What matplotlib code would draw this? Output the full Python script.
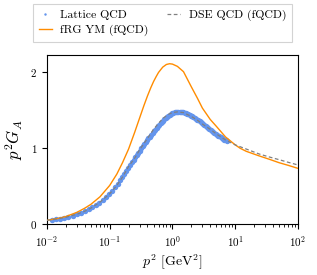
import matplotlib
matplotlib.use("Agg")
import matplotlib.pyplot as plt

plt.rcParams['font.family'] = ['cmr10', 'DejaVu Serif']
plt.rcParams['mathtext.fontset'] = 'cm'
plt.rcParams['axes.formatter.use_mathtext'] = True

# lattice QCD points
lat_p2 = [0.012, 0.014, 0.016, 0.019, 0.022, 0.026, 0.030, 0.035, 0.040, 0.046,
          0.053, 0.060, 0.068, 0.077, 0.087, 0.098, 0.110, 0.122, 0.135, 0.148,
          0.160, 0.172, 0.185, 0.198, 0.212, 0.226, 0.240, 0.255, 0.270, 0.286,
          0.302, 0.320, 0.338, 0.356, 0.375, 0.395, 0.415, 0.437, 0.460, 0.484,
          0.508, 0.533, 0.560, 0.588, 0.616, 0.646, 0.677, 0.710, 0.744, 0.780,
          0.818, 0.857, 0.898, 0.940, 0.985, 1.03, 1.08, 1.13, 1.18, 1.24,
          1.30, 1.36, 1.42, 1.49, 1.56, 1.63, 1.71, 1.79, 1.87, 1.96,
          2.05, 2.15, 2.25, 2.36, 2.47, 2.58, 2.70, 2.83, 2.96, 3.10,
          3.24, 3.39, 3.55, 3.72, 3.89, 4.07, 4.26, 4.46, 4.67, 4.89,
          5.12, 5.36, 5.61, 5.87, 6.14, 6.43, 6.73, 7.04, 7.37]
lat_G = [0.060, 0.066, 0.072, 0.085, 0.097, 0.113, 0.130, 0.150, 0.170, 0.195,
         0.222, 0.250, 0.282, 0.318, 0.355, 0.395, 0.440, 0.485, 0.535, 0.582,
         0.625, 0.665, 0.705, 0.745, 0.785, 0.820, 0.850, 0.880, 0.910, 0.940,
         0.970, 1.000, 1.030, 1.055, 1.080, 1.105, 1.130, 1.155, 1.180, 1.205,
         1.225, 1.245, 1.270, 1.290, 1.310, 1.330, 1.350, 1.365, 1.385, 1.400,
         1.415, 1.430, 1.440, 1.450, 1.460, 1.468, 1.474, 1.478, 1.480, 1.482,
         1.482, 1.480, 1.478, 1.475, 1.470, 1.464, 1.457, 1.450, 1.442, 1.432,
         1.423, 1.413, 1.402, 1.390, 1.379, 1.368, 1.356, 1.343, 1.330, 1.318,
         1.305, 1.292, 1.280, 1.267, 1.254, 1.241, 1.228, 1.216, 1.204, 1.192,
         1.180, 1.168, 1.157, 1.146, 1.135, 1.124, 1.113, 1.103, 1.093]

# fRG YM (fQCD)
frg_p2 = [0.01, 0.015, 0.02, 0.03, 0.04, 0.05, 0.07, 0.1, 0.13, 0.16,
          0.2, 0.25, 0.3, 0.35, 0.4, 0.45, 0.5, 0.55, 0.6, 0.7, 0.8, 0.9,
          1.0, 1.2, 1.5, 2.0, 2.5, 3.0, 4.0, 5.0, 7.0, 10.0,
          12.0, 15.0, 24.0, 35.0, 50.0, 70.0, 100.0]
frg_G = [0.05, 0.075, 0.10, 0.155, 0.21, 0.26, 0.36, 0.51, 0.66, 0.81,
         0.99, 1.21, 1.40, 1.56, 1.69, 1.795, 1.88, 1.945, 2.00, 2.07, 2.105, 2.115,
         2.11, 2.08, 2.01, 1.81, 1.66, 1.53, 1.38, 1.29, 1.15, 1.045,
         1.00, 0.96, 0.90, 0.855, 0.81, 0.775, 0.735]

# DSE QCD (fQCD)
dse_p2 = [0.01, 0.015, 0.02, 0.03, 0.04, 0.05, 0.07, 0.1, 0.13, 0.16,
          0.2, 0.25, 0.3, 0.35, 0.4, 0.5, 0.6, 0.7, 0.8, 0.9,
          1.0, 1.2, 1.5, 2.0, 2.5, 3.0, 4.0, 5.0, 7.0, 10.0,
          15.0, 24.0, 35.0, 50.0, 70.0, 100.0]
dse_G = [0.05, 0.07, 0.09, 0.13, 0.17, 0.21, 0.29, 0.40, 0.51, 0.62,
         0.76, 0.87, 0.98, 1.06, 1.13, 1.25, 1.33, 1.39, 1.43, 1.455,
         1.47, 1.48, 1.47, 1.42, 1.37, 1.32, 1.25, 1.19, 1.11, 1.045,
         0.99, 0.925, 0.885, 0.85, 0.815, 0.78]

fig = plt.figure(figsize=(3.17, 2.75), dpi=100)
ax = fig.add_axes([0.148, 0.185, 0.792, 0.615])

ax.plot(lat_p2, lat_G, 'o', color='cornflowerblue', ms=3.9, mew=0,
        label='Lattice QCD', zorder=2)
ax.plot(frg_p2, frg_G, '-', color='darkorange', lw=1.0,
        label='fRG YM (fQCD)', zorder=3)
ax.plot(dse_p2, dse_G, '--', color='gray', lw=0.9, dashes=(3, 2),
        label='DSE QCD (fQCD)', zorder=4)

ax.set_xscale('log')
ax.set_xlim(1e-2, 1e2)
ax.set_ylim(0, 2.23)
ax.set_yticks([0, 1, 2])
ax.tick_params(labelsize=8, direction='out', length=3.5)
ax.tick_params(which='minor', length=2)
ax.set_xlabel(r'$p^2$ [GeV$^2$]', fontsize=10, labelpad=3)
ax.set_ylabel(r'$p^2 G_A$', fontsize=12, labelpad=4)

leg = ax.legend(loc='lower center', bbox_to_anchor=(0.46, 1.04), ncol=2,
                fontsize=8.5, fancybox=False, edgecolor='lightgray',
                handlelength=1.1, handletextpad=0.7, columnspacing=1.6,
                markerscale=0.45, borderpad=0.5, labelspacing=0.45,
                framealpha=1)
leg.get_frame().set_linewidth(0.8)

fig.savefig('out.png', dpi=100)
